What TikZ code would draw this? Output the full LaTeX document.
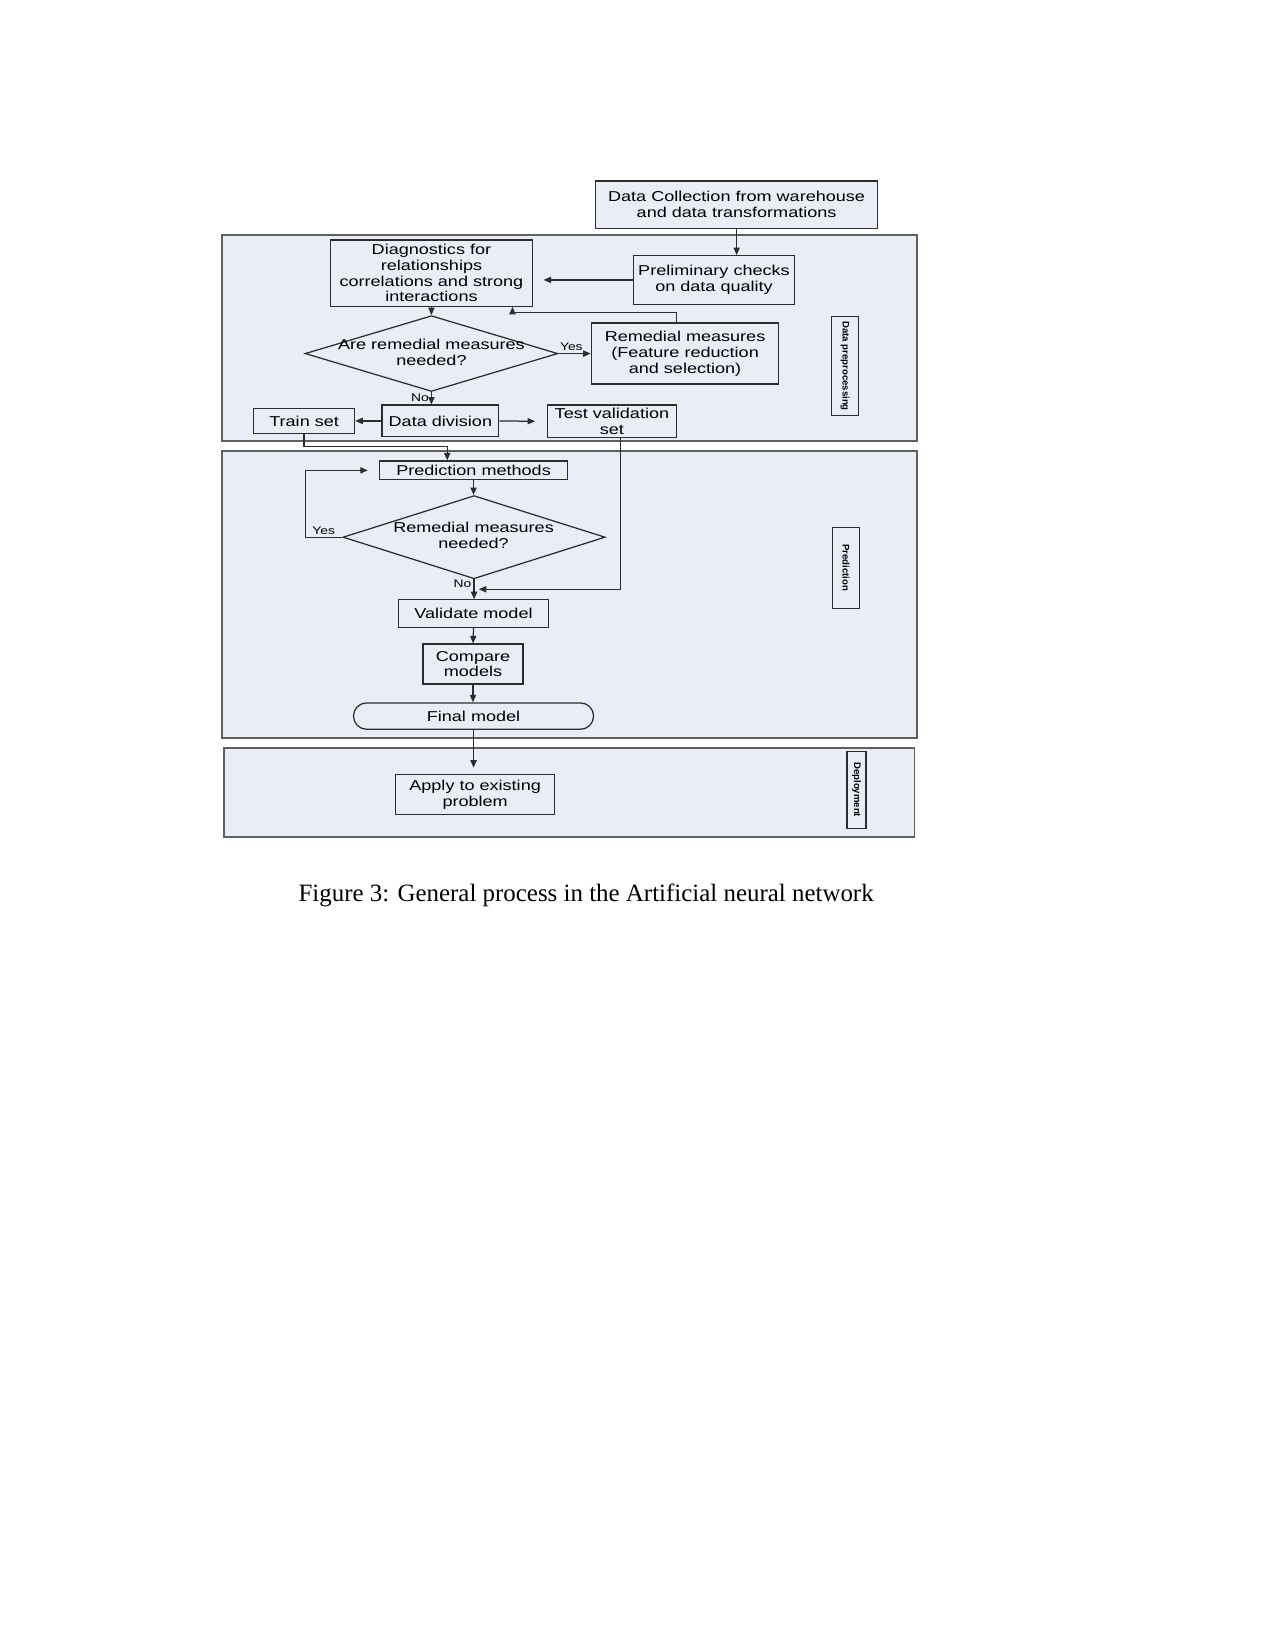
\documentclass[tikz,border=0pt]{standalone}
\usepackage{fontspec}
\setmainfont{Liberation Serif}
\newfontfamily\diagfont{Liberation Sans}[FakeStretch=1.26]
\newfontfamily\tagfont{Liberation Sans}
\usetikzlibrary{arrows.meta,positioning,calc,shapes.geometric}
\definecolor{panel}{RGB}{232,237,246}
\definecolor{ink}{RGB}{45,45,45}
\definecolor{rim}{RGB}{95,95,95}

\begin{document}
\begin{tikzpicture}[
  x=0.017814cm, y=-0.017814cm,
  every node/.style={font=\diagfont\fontsize{6.9}{7.6}\selectfont, align=center},
  wh/.style 2 args={minimum width=#1*0.507pt, minimum height=#2*0.507pt},
  box/.style={draw=ink, line width=0.6pt, fill=panel, inner sep=0pt},
  final/.style={box, rounded corners=6.3pt},
  decision/.style={draw=ink, line width=0.6pt, fill=panel, diamond, inner sep=0pt},
  stage/.style={draw=rim, line width=0.9pt, fill=panel},
  tag/.style={draw=ink, line width=0.6pt, fill=panel, inner sep=0pt, rotate=-90,
              font=\tagfont\bfseries\fontsize{4.6}{5}\selectfont},
  flag/.style={font=\diagfont\fontsize{5.3}{6}\selectfont, inner sep=1pt},
  arr/.style={draw=ink, line width=0.6pt, -{Triangle[length=3.6pt,width=3pt]}}]

\useasboundingbox (0,0) rectangle (1212,1568);

% ================= stages ==================================================
\draw[stage] (211,223) rectangle (871,419);
\draw[stage] (211,429) rectangle (871,701);
\draw[stage] (213,711) rectangle (869,795);

\node[tag, wh={94}{26}] (dplabel)   at (803,348)   {Data preprocessing};
\node[tag, wh={77}{26}] (predlabel) at (804,539.5) {Prediction};
\node[tag, wh={73}{18}] (deplabel)  at (814,750.5) {Deployment};

% ================= data preprocessing ======================================
\node[box, wh={268}{45}] (collect) at (700,194.5)
  {Data Collection from warehouse\\and data transformations};
\node[box, wh={153}{46}] (prelim) at (678.5,266)
  {Preliminary checks\\on data quality};
\node[box, wh={192}{63}] (diag) at (410,259.5)
  {Diagnostics for\\relationships\\correlations and strong\\interactions};
\node[decision, wh={240}{72}] (ask1) at (410,336) {};
\node (ask1txt) at (410,335) {Are remedial measures\\needed?};
\node[box, wh={178}{58}] (remedy) at (651,336)
  {Remedial measures\\(Feature reduction\\and selection)};
\node[box, wh={111}{30}] (divide)  at (418.5,400) {Data division};
\node[box, wh={96}{24}]  (train)   at (289,400)   {Train set};
\node[box, wh={123}{31}] (testset) at (581.5,400.5) {Test validation\\set};

\coordinate (fbend) at (487,297);
\draw[arr] (collect.south) -- (collect.south |- prelim.north);
\draw[arr, shorten >=5pt] (prelim.west) -- (prelim.west -| diag.east);
\draw[arr] (diag.south) -- (ask1.north);
\draw[arr] (ask1.east) -- node[flag, above, pos=0.4] {Yes} (remedy.west);
\draw[arr] ([xshift=-4.1pt]remedy.north) |- (fbend) -- (fbend |- diag.south);
\draw[arr] (ask1.south) -- node[flag, left, pos=0.45] {No} (ask1.south |- divide.north);
\draw[arr] (divide.west) -- (train.east);
\draw[arr, shorten >=5.5pt] (divide.east) -- (testset.west);

% ================= prediction ==============================================
\node[box, wh={178}{18}] (predm) at (450,447) {Prediction methods};
\node[decision, wh={249}{79}] (ask2) at (450.5,510.5) {};
\node (ask2txt) at (450,509) {Remedial measures\\needed?};
\node[box, wh={142}{26}] (validate) at (450,583)   {Validate model};
\node[box, wh={95}{38}]  (compare)  at (449.5,631) {Compare\\models};
\node[final, wh={228}{25}] (finalm) at (450,680.5) {Final model};

\coordinate (tbend) at (425,424);
\coordinate (ycorner) at (290,510.5);
\coordinate (vjoin) at (455,560);
\draw[arr] (train.south) |- (tbend) -- (tbend |- predm.north);
\draw[arr] (predm.south) -- (predm.south |- ask2.north);
\draw[arr, shorten >=5.5pt] (ask2.west) -- node[flag, above, pos=0.5] {Yes} (ycorner) |- (predm.west);
\draw[arr] (ask2.south) -- node[flag, left, pos=0.2] {No} (ask2.south |- validate.north);
\draw[arr] ([xshift=4.3pt]testset.south) |- (vjoin);
\draw[arr] (validate.south) -- (compare.north);
\draw[arr] (compare.south) -- (compare.south |- finalm.north);

% ================= deployment ==============================================
\node[box, wh={151}{38}] (apply) at (451.5,755) {Apply to existing\\problem};
\draw[arr, shorten >=3pt] (finalm.south) -- (finalm.south |- apply.north);

\node[font=\rmfamily\fontsize{12}{14}\selectfont] (caption) at (557,851)
  {Figure 3: General process in the Artificial neural network};

\end{tikzpicture}
\end{document}
